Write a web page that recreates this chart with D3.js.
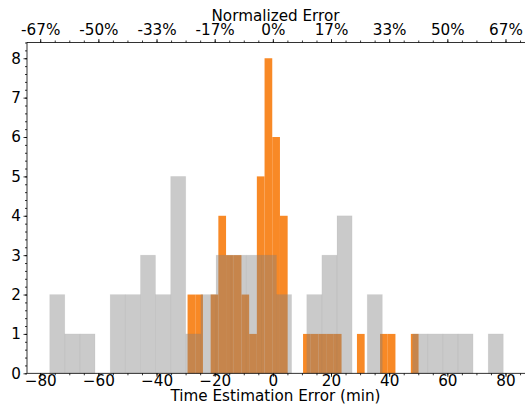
<!DOCTYPE html>
<html>
<head>
<meta charset="utf-8">
<script src="https://cdn.jsdelivr.net/npm/d3@7"></script>
<style>
  body { margin: 0; background: #fff; }
  svg { display: block; font-family: "DejaVu Sans", sans-serif; }
</style>
</head>
<body>
<svg id="chart" width="525" height="412"></svg>
<script>
// ---- data ----
// grey histogram (30 bins)
const greyStart = -76.74;
const greyEnd = 79.25;
const greyCounts = [2,1,1,0,2,2,3,2,5,1,2,3,3,3,3,2,0,2,3,4,0,2,0,0,1,1,1,1,0,1];
// orange histogram (30 bins)
const orangeStart = -29.33;
const orangeEnd = 50.1;
const orangeCounts = [2,2,0,2,4,3,3,2,1,5,8,6,4,0,0,1,1,1,1,1,0,0,1,0,0,1,1,0,0,1];
// ticks
const xTicks = [-80, -60, -40, -20, 0, 20, 40, 60, 80];
const topTickLabels = ["-67%", "-50%", "-33%", "-17%", "0%", "17%", "33%", "50%", "67%"];
const yTicks = [0, 1, 2, 3, 4, 5, 6, 7, 8];
const xLabel = "Time Estimation Error (min)";
const topLabel = "Normalized Error";

// ---- layout ----
const pL = 27, pR = 526, pT = 42.5, pB = 373.3;
const svg = d3.select("#chart");
const x = d3.scaleLinear().domain([-84.54, 87.05]).range([pL, pR]);
const y = d3.scaleLinear().domain([0, 8.4]).range([pB, pT]);

function bins(start, end, counts) {
  const w = (end - start) / counts.length;
  return counts.map((c, i) => ({x0: start + i * w, x1: start + (i + 1) * w, c}));
}

const g = svg.append("g");
// orange first
g.selectAll("rect.o").data(bins(orangeStart, orangeEnd, orangeCounts).filter(d => d.c > 0))
  .enter().append("rect").attr("class", "o")
  .attr("x", d => x(d.x0)).attr("width", d => x(d.x1) - x(d.x0))
  .attr("y", d => y(d.c)).attr("height", d => y(0) - y(d.c))
  .attr("fill", "#f77f14").attr("fill-opacity", 0.92);
// grey on top
g.selectAll("rect.g").data(bins(greyStart, greyEnd, greyCounts).filter(d => d.c > 0))
  .enter().append("rect").attr("class", "g")
  .attr("x", d => x(d.x0)).attr("width", d => x(d.x1) - x(d.x0))
  .attr("y", d => y(d.c)).attr("height", d => y(0) - y(d.c))
  .attr("fill", "#808080").attr("fill-opacity", 0.42)
  .attr("stroke", "#808080").attr("stroke-opacity", 0.08).attr("stroke-width", 0.8);

// ---- axes ----
const fs = 15.2;
const minorX = d3.range(-85, 90, 5).filter(v => v >= -84.5 && v <= 87);
const minorY = d3.range(0, 8.41, 0.2);

const axB = svg.append("g").attr("transform", `translate(0,${pB})`)
  .call(d3.axisBottom(x).tickValues(xTicks).tickSize(3.5).tickPadding(2)
    .tickFormat(d => d < 0 ? "\u2212" + Math.abs(d) : String(d)));
const axBm = svg.append("g").attr("transform", `translate(0,${pB})`)
  .call(d3.axisBottom(x).tickValues(minorX).tickSize(2).tickFormat(""));
const axT = svg.append("g").attr("transform", `translate(0,${pT})`)
  .call(d3.axisTop(x).tickValues(xTicks).tickSize(3.5).tickPadding(2)
    .tickFormat((d, i) => topTickLabels[i]));
const axTm = svg.append("g").attr("transform", `translate(0,${pT})`)
  .call(d3.axisTop(x).tickValues(minorX).tickSize(2).tickFormat(""));
const axL = svg.append("g").attr("transform", `translate(${pL},0)`)
  .call(d3.axisLeft(y).tickValues(yTicks).tickSize(3.5).tickPadding(2.5)
    .tickFormat(d3.format("d")));
const axLm = svg.append("g").attr("transform", `translate(${pL},0)`)
  .call(d3.axisLeft(y).tickValues(minorY).tickSize(2).tickFormat(""));

[axB, axBm, axT, axTm, axL, axLm].forEach(a => {
  a.select(".domain").remove();
  a.selectAll("line").attr("stroke", "#000").attr("stroke-width", 0.8);
  a.selectAll("text").attr("font-size", fs).attr("fill", "#000")
    .attr("font-family", "DejaVu Sans, sans-serif");
});
// exact baselines for x tick labels
axB.selectAll("text").attr("y", 0).attr("dy", null).attr("transform", "translate(0,12.5)");
axT.selectAll("text").attr("y", 0).attr("dy", null).attr("transform", "translate(0,-7.5)");

// spines
svg.append("rect").attr("x", pL).attr("y", pT)
  .attr("width", pR - pL).attr("height", pB - pT)
  .attr("fill", "none").attr("stroke", "#000").attr("stroke-width", 0.8);

// labels
svg.append("text").attr("x", (pL + pR) / 2 - 1).attr("y", 401)
  .attr("text-anchor", "middle").attr("font-size", fs).text(xLabel);
svg.append("text").attr("x", (pL + pR) / 2 - 1).attr("y", 20.5)
  .attr("text-anchor", "middle").attr("font-size", fs).text(topLabel);
</script>
</body>
</html>
